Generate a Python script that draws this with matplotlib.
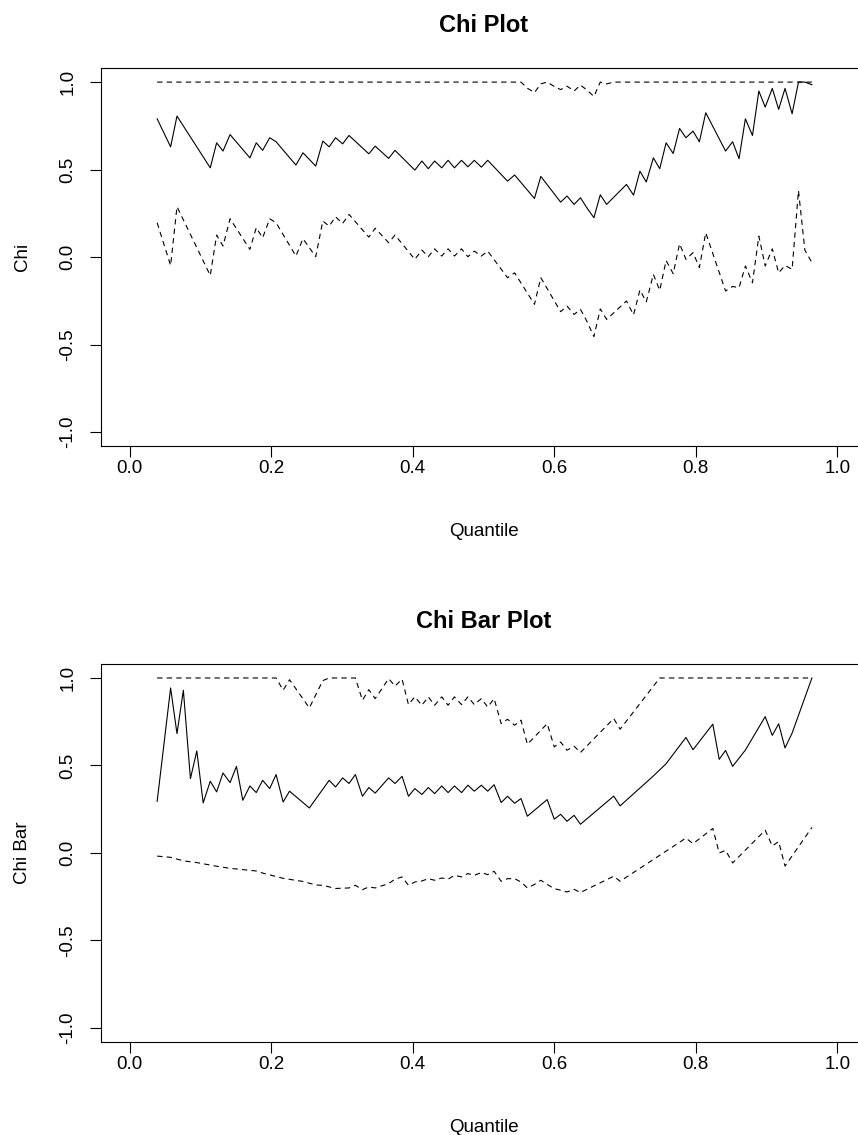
import matplotlib
matplotlib.use('Agg')
import matplotlib.pyplot as plt

plt.rcParams['font.family'] = ['Liberation Sans', 'DejaVu Sans']

# chi plot: quantiles at the line vertices and the values
q_chi = [0.039, 0.058, 0.067, 0.114, 0.123, 0.132, 0.142, 0.170, 0.179, 0.188,
         0.198, 0.207, 0.235, 0.245, 0.263, 0.273, 0.282, 0.291, 0.301, 0.310,
         0.338, 0.347, 0.366, 0.375, 0.403, 0.413, 0.422, 0.431, 0.441, 0.450,
         0.459, 0.469, 0.478, 0.487, 0.497, 0.506, 0.534, 0.544, 0.572, 0.581,
         0.609, 0.618, 0.628, 0.637, 0.646, 0.656, 0.665, 0.674, 0.702, 0.712,
         0.721, 0.730, 0.740, 0.749, 0.758, 0.768, 0.777, 0.786, 0.796, 0.805,
         0.814, 0.842, 0.852, 0.861, 0.870, 0.880, 0.889, 0.898, 0.908, 0.917,
         0.926, 0.936, 0.945, 0.954, 0.964]
chi = [0.79, 0.63, 0.806, 0.51, 0.653, 0.606, 0.70, 0.567, 0.653, 0.61,
       0.682, 0.659, 0.526, 0.596, 0.52, 0.663, 0.63, 0.682, 0.647, 0.695,
       0.59, 0.634, 0.564, 0.61, 0.497, 0.549, 0.505, 0.549, 0.51, 0.553,
       0.51, 0.553, 0.516, 0.553, 0.514, 0.553, 0.434, 0.469, 0.335, 0.461,
       0.314, 0.349, 0.301, 0.339, 0.282, 0.225, 0.356, 0.301, 0.415, 0.354,
       0.491, 0.429, 0.567, 0.505, 0.653, 0.592, 0.735, 0.682, 0.72, 0.659,
       0.825, 0.606, 0.659, 0.562, 0.79, 0.695, 0.949, 0.857, 0.964, 0.844,
       0.964, 0.819, 1.0, 1.0, 0.985]
chi_lower = [0.196, -0.048, 0.288, -0.105, 0.126, 0.063, 0.219, 0.044, 0.168, 0.11,
             0.219, 0.196, 0.006, 0.105, 0.002, 0.206, 0.177, 0.23, 0.192, 0.244,
             0.114, 0.165, 0.082, 0.126, -0.013, 0.04, 0.002, 0.047, 0.006, 0.047,
             0.006, 0.047, 0.002, 0.034, 0.006, 0.034, -0.118, -0.09, -0.27, -0.118,
             -0.312, -0.28, -0.328, -0.299, -0.366, -0.455, -0.296, -0.356, -0.251, -0.33,
             -0.188, -0.256, -0.099, -0.19, -0.02, -0.095, 0.076, -0.013, 0.025, -0.059,
             0.139, -0.194, -0.168, -0.175, -0.051, -0.147, 0.12, -0.051, 0.047, -0.09,
             -0.048, -0.07, 0.38, 0.04, -0.032]
q_chi_upper = [0.039, 0.553, 0.562, 0.572, 0.581, 0.590, 0.600, 0.609, 0.618,
               0.628, 0.637, 0.646, 0.656, 0.665, 0.674, 0.684, 0.964]
chi_upper = [1.0, 1.0, 0.965, 0.94, 0.99, 1.0, 0.975, 0.957, 0.977,
             0.949, 0.983, 0.955, 0.918, 1.0, 0.99, 1.0, 1.0]

# chi bar plot
q_chibar = [0.039, 0.058, 0.067, 0.076, 0.086, 0.095, 0.104, 0.114, 0.123, 0.132,
            0.142, 0.151, 0.160, 0.170, 0.179, 0.188, 0.198, 0.207, 0.217, 0.226,
            0.254, 0.282, 0.291, 0.301, 0.310, 0.319, 0.329, 0.338, 0.347, 0.366,
            0.375, 0.385, 0.394, 0.403, 0.413, 0.422, 0.431, 0.441, 0.450, 0.459,
            0.469, 0.478, 0.487, 0.497, 0.506, 0.515, 0.525, 0.534, 0.544, 0.553,
            0.562, 0.590, 0.600, 0.609, 0.618, 0.628, 0.637, 0.684, 0.693, 0.740,
            0.758, 0.786, 0.796, 0.824, 0.833, 0.842, 0.852, 0.870, 0.898, 0.908,
            0.917, 0.926, 0.936, 0.964]
chibar = [0.295, 0.943, 0.682, 0.93, 0.425, 0.583, 0.286, 0.41, 0.349, 0.457,
          0.402, 0.495, 0.301, 0.383, 0.345, 0.415, 0.368, 0.448, 0.291, 0.353,
          0.257, 0.415, 0.377, 0.429, 0.397, 0.448, 0.324, 0.374, 0.342, 0.429,
          0.397, 0.438, 0.324, 0.368, 0.334, 0.374, 0.339, 0.383, 0.345, 0.383,
          0.345, 0.387, 0.353, 0.387, 0.353, 0.39, 0.288, 0.324, 0.284, 0.311,
          0.21, 0.305, 0.193, 0.221, 0.181, 0.215, 0.164, 0.325, 0.269, 0.44,
          0.51, 0.66, 0.59, 0.736, 0.535, 0.586, 0.495, 0.588, 0.779, 0.672,
          0.738, 0.6, 0.685, 1.0]
q_chibar_upper = [0.039, 0.207, 0.217, 0.226, 0.254, 0.273, 0.282, 0.319, 0.329, 0.338,
                  0.347, 0.366, 0.375, 0.385, 0.394, 0.403, 0.413, 0.422, 0.431, 0.441,
                  0.450, 0.459, 0.469, 0.478, 0.487, 0.497, 0.506, 0.515, 0.525, 0.534,
                  0.544, 0.553, 0.562, 0.590, 0.600, 0.609, 0.618, 0.628, 0.637, 0.684,
                  0.693, 0.749, 0.964]
chibar_upper = [1.0, 1.0, 0.93, 0.99, 0.829, 0.985, 1.0, 1.0, 0.873, 0.933,
                0.882, 0.996, 0.954, 0.993, 0.848, 0.892, 0.844, 0.892, 0.844, 0.892,
                0.844, 0.892, 0.848, 0.892, 0.848, 0.882, 0.834, 0.882, 0.739, 0.764,
                0.73, 0.759, 0.621, 0.739, 0.606, 0.634, 0.587, 0.61, 0.574, 0.768,
                0.707, 1.0, 1.0]
q_chibar_lower = [0.039, 0.058, 0.076, 0.095, 0.123, 0.142, 0.179, 0.188, 0.217, 0.245,
                  0.263, 0.273, 0.291, 0.310, 0.319, 0.329, 0.338, 0.347, 0.366, 0.375,
                  0.385, 0.394, 0.403, 0.413, 0.422, 0.431, 0.441, 0.450, 0.459, 0.469,
                  0.478, 0.487, 0.497, 0.506, 0.515, 0.525, 0.534, 0.544, 0.553, 0.562,
                  0.572, 0.581, 0.590, 0.600, 0.609, 0.618, 0.628, 0.637,
                  0.684, 0.693, 0.786, 0.796, 0.824, 0.833, 0.842, 0.852, 0.898, 0.908,
                  0.917, 0.926, 0.964]
chibar_lower = [-0.018, -0.025, -0.045, -0.055, -0.076, -0.088, -0.103, -0.115, -0.145, -0.163,
                -0.183, -0.185, -0.203, -0.2, -0.185, -0.21, -0.194, -0.2, -0.175, -0.15,
                -0.137, -0.185, -0.166, -0.16, -0.147, -0.156, -0.143, -0.15, -0.128, -0.137,
                -0.118, -0.128, -0.112, -0.124, -0.105, -0.162, -0.147, -0.147, -0.166, -0.2,
                -0.18, -0.156, -0.18, -0.204, -0.213, -0.223, -0.208, -0.226,
                -0.133, -0.162, 0.085, 0.053, 0.14, 0.0, 0.015, -0.057, 0.13, 0.04,
                0.065, -0.075, 0.146]

x_ticks = [0.0, 0.2, 0.4, 0.6, 0.8, 1.0]
y_ticks = [-1.0, -0.5, 0.0, 0.5, 1.0]

dash = (4.8, 3.8)


def chi_panel(ax, title, ylabel, q_mid, mid, q_up, up, q_low, low):
    ax.plot(q_mid, mid, color='black', lw=0.8)
    ax.plot(q_up, up, color='black', lw=0.8, linestyle=(0, dash))
    ax.plot(q_low, low, color='black', lw=0.8, linestyle=(0, dash))
    ax.set_xlim(-0.04, 1.04)
    ax.set_ylim(-1.08, 1.08)
    ax.set_xticks(x_ticks)
    ax.set_xticklabels(['%.1f' % t for t in x_ticks])
    ax.set_yticks(y_ticks)
    ax.set_yticklabels(['%.1f' % t for t in y_ticks], rotation=90, va='center')
    ax.tick_params(direction='out', length=8, width=0.8, labelsize=13.5,
                   colors='black')
    ax.tick_params(axis='x', pad=2)
    ax.tick_params(axis='y', pad=10)
    for s in ax.spines.values():
        s.set_linewidth(0.8)
    ax.set_title(title, fontsize=17, fontweight='bold', pad=26)
    ax.set_xlabel('Quantile', fontsize=13.5, labelpad=33)
    ax.set_ylabel(ylabel, fontsize=13.5, labelpad=20)


fig = plt.figure(figsize=(8.58, 11.35), dpi=100)
ax1 = fig.add_axes([0.118, 0.607, 0.891, 0.333])
ax2 = fig.add_axes([0.118, 0.082, 0.891, 0.333])

chi_panel(ax1, 'Chi Plot', 'Chi', q_chi, chi, q_chi_upper, chi_upper, q_chi, chi_lower)
chi_panel(ax2, 'Chi Bar Plot', 'Chi Bar', q_chibar, chibar, q_chibar_upper, chibar_upper,
          q_chibar_lower, chibar_lower)

fig.savefig('out.png', dpi=100)
